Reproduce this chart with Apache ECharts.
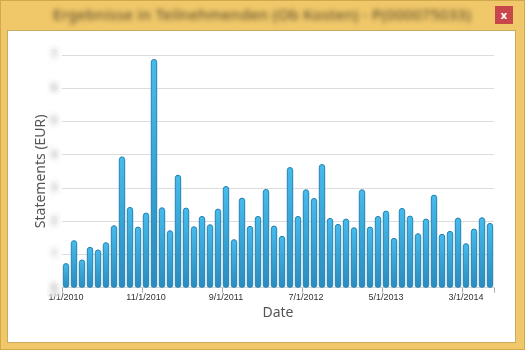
<!DOCTYPE html>
<html>
<head>
<meta charset="utf-8">
<script src="https://cdn.jsdelivr.net/npm/echarts@6/dist/echarts.min.js"></script>
<style>
  html, body { margin: 0; padding: 0; width: 525px; height: 350px; overflow: hidden; background: #f0c86a; }
  #frame { position: absolute; left: 0; top: 0; width: 523px; height: 348px; border: 1px solid #d2a84c; background: #f0c86a; }
  #title { position: absolute; left: 42px; top: 4px; width: 440px; text-align: center; font: 15px "Noto Sans", sans-serif; letter-spacing: 0.3px; color: #4e4128; filter: blur(2.5px); white-space: nowrap; }
  #close { position: absolute; left: 495px; top: 6px; width: 18px; height: 18px; background: #c8474a; color: #fff; font: bold 11px "Noto Sans", sans-serif; text-align: center; line-height: 17px; }
  #panel { position: absolute; left: 7px; top: 30px; width: 507px; height: 311px; background: #fff; border: 1px solid #c9aa60; }
  #chart { position: absolute; left: 0; top: 0; width: 525px; height: 350px; }
  #blurY { position: absolute; left: 47px; top: 45px; width: 14px; height: 252px; backdrop-filter: blur(3px); -webkit-backdrop-filter: blur(3px); }
</style>
</head>
<body>
<div id="frame"></div>
<div id="title">Ergebnisse in Teilnehmenden (Ob Kosten) - P(000075033)</div>
<div id="close">x</div>
<div id="panel"></div>
<div id="chart"></div>
<div id="blurY"></div>
<script>
// Months Jan 2010 .. Jun 2014
const categories = [];
for (let y = 2010; y <= 2014; y++) {
  for (let m = 1; m <= 12; m++) {
    if (y === 2014 && m > 6) break;
    categories.push(m + '/1/' + y);
  }
}
const values = [
  0.74, 1.43, 0.85, 1.23, 1.15, 1.37, 1.88, 3.95, 2.43, 1.84,
  2.26, 6.88, 2.42, 1.73, 3.40, 2.41, 1.85, 2.16, 1.91, 2.38,
  3.06, 1.46, 2.71, 1.86, 2.16, 2.97, 1.87, 1.56, 3.63, 2.16,
  2.96, 2.70, 3.72, 2.10, 1.92, 2.08, 1.82, 2.96, 1.84, 2.16,
  2.32, 1.50, 2.40, 2.17, 1.64, 2.08, 2.80, 1.62, 1.71, 2.11,
  1.34, 1.78, 2.12, 1.95
];
const yMin = 0, yMax = 7, yInterval = 1;

const chart = echarts.init(document.getElementById('chart'), null, { renderer: 'canvas' });
chart.setOption({
  animation: false,
  backgroundColor: 'transparent',
  grid: { left: 62, right: 31, top: 55, bottom: 62.3, containLabel: false },
  xAxis: {
    type: 'category',
    data: categories,
    name: 'Date',
    nameLocation: 'middle',
    nameGap: 18,
    nameMoveOverlap: false,
    nameTextStyle: { fontFamily: 'Noto Sans', fontSize: 14, color: '#555' },
    axisLine: { show: true, lineStyle: { color: '#d0d0d0' } },
    axisTick: { show: true, interval: 9, length: 5, lineStyle: { color: '#aaa' } },
    axisLabel: { interval: 9, fontFamily: 'Liberation Sans', fontSize: 9, color: '#333', margin: 5 }
  },
  yAxis: {
    type: 'value',
    min: yMin, max: yMax, interval: yInterval,
    name: 'Statements (EUR)',
    nameLocation: 'middle',
    nameGap: 14,
    nameMoveOverlap: false,
    nameTextStyle: { fontFamily: 'Noto Sans', fontSize: 14, color: '#555' },
    axisLine: { show: false },
    axisTick: { show: false },
    axisLabel: { fontFamily: 'Noto Sans', fontSize: 10, fontWeight: 'bold', color: '#999', margin: 5 },
    splitLine: { lineStyle: { color: '#dcdcdc' } }
  },
  series: [{
    type: 'bar',
    data: values,
    barCategoryGap: '20%',
    itemStyle: {
      borderRadius: [3, 3, 2, 2],
      borderColor: '#2782b3',
      borderWidth: 1,
      color: new echarts.graphic.LinearGradient(0, 0, 0, 1, [
        { offset: 0, color: '#45bcec' },
        { offset: 1, color: '#2a8cbe' }
      ])
    }
  }]
});
</script>
</body>
</html>
